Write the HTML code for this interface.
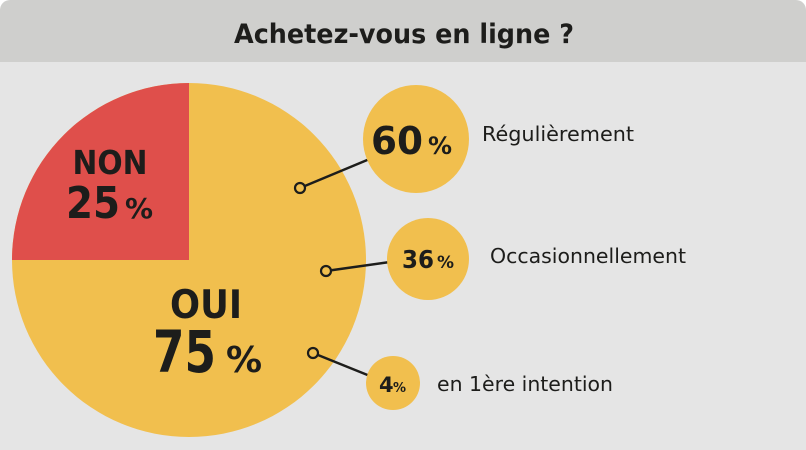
<!DOCTYPE html>
<html><head><meta charset="utf-8"><style>
body{margin:0;background:#fff}
svg{display:block}
text{font-family:"DejaVu Sans","Liberation Sans",sans-serif;fill:#1d1d1b}
.b{font-weight:bold}
</style></head><body>
<svg width="806" height="450" viewBox="0 0 806 450" xmlns="http://www.w3.org/2000/svg">
<rect x="0" y="0" width="806" height="450" rx="10" fill="#cfcfcd"/>
<rect x="0" y="62" width="806" height="388" fill="#e5e5e5"/>
<text x="404" y="43" text-anchor="middle" class="b" font-size="27" textLength="340" lengthAdjust="spacingAndGlyphs">Achetez-vous en ligne ?</text>
<circle cx="189" cy="260" r="177" fill="#f1bf4e"/>
<path d="M189 260 L12 260 A177 177 0 0 1 189 83 Z" fill="#df4f4b"/>
<text x="110" y="174" text-anchor="middle" class="b" font-size="33" textLength="75" lengthAdjust="spacingAndGlyphs">NON</text>
<text x="66" y="218" class="b" font-size="44" textLength="54" lengthAdjust="spacingAndGlyphs">25</text>
<text x="125" y="218" class="b" font-size="28">%</text>
<text x="206" y="318" text-anchor="middle" class="b" font-size="39" textLength="72" lengthAdjust="spacingAndGlyphs">OUI</text>
<text x="153" y="372" class="b" font-size="58" textLength="63" lengthAdjust="spacingAndGlyphs">75</text>
<text x="226" y="372" class="b" font-size="36">%</text>
<line x1="300" y1="188" x2="372" y2="158" stroke="#1d1d1b" stroke-width="2.5"/>
<line x1="326" y1="271" x2="390" y2="262" stroke="#1d1d1b" stroke-width="2.5"/>
<line x1="313" y1="353" x2="370" y2="376" stroke="#1d1d1b" stroke-width="2.5"/>
<circle cx="300" cy="188" r="5" fill="#f1bf4e" stroke="#1d1d1b" stroke-width="2.2"/>
<circle cx="326" cy="271" r="5" fill="#f1bf4e" stroke="#1d1d1b" stroke-width="2.2"/>
<circle cx="313" cy="353" r="5" fill="#f1bf4e" stroke="#1d1d1b" stroke-width="2.2"/>
<ellipse cx="416" cy="139" rx="53" ry="54" fill="#f1bf4e"/>
<circle cx="428" cy="259" r="41" fill="#f1bf4e"/>
<circle cx="393" cy="383" r="27" fill="#f1bf4e"/>
<text x="371" y="154" class="b" font-size="38" textLength="52" lengthAdjust="spacingAndGlyphs">60</text>
<text x="428" y="154" class="b" font-size="24">%</text>
<text x="402" y="268" class="b" font-size="25" textLength="32" lengthAdjust="spacingAndGlyphs">36</text>
<text x="437" y="268" class="b" font-size="17">%</text>
<text x="379" y="392" class="b" font-size="21">4</text>
<text x="393" y="392" class="b" font-size="13">%</text>
<text x="482" y="141" font-size="20" textLength="152" lengthAdjust="spacingAndGlyphs">Régulièrement</text>
<text x="490" y="263" font-size="20" textLength="196" lengthAdjust="spacingAndGlyphs">Occasionnellement</text>
<text x="437" y="391" font-size="20" textLength="176" lengthAdjust="spacingAndGlyphs">en 1ère intention</text>
</svg>
</body></html>
